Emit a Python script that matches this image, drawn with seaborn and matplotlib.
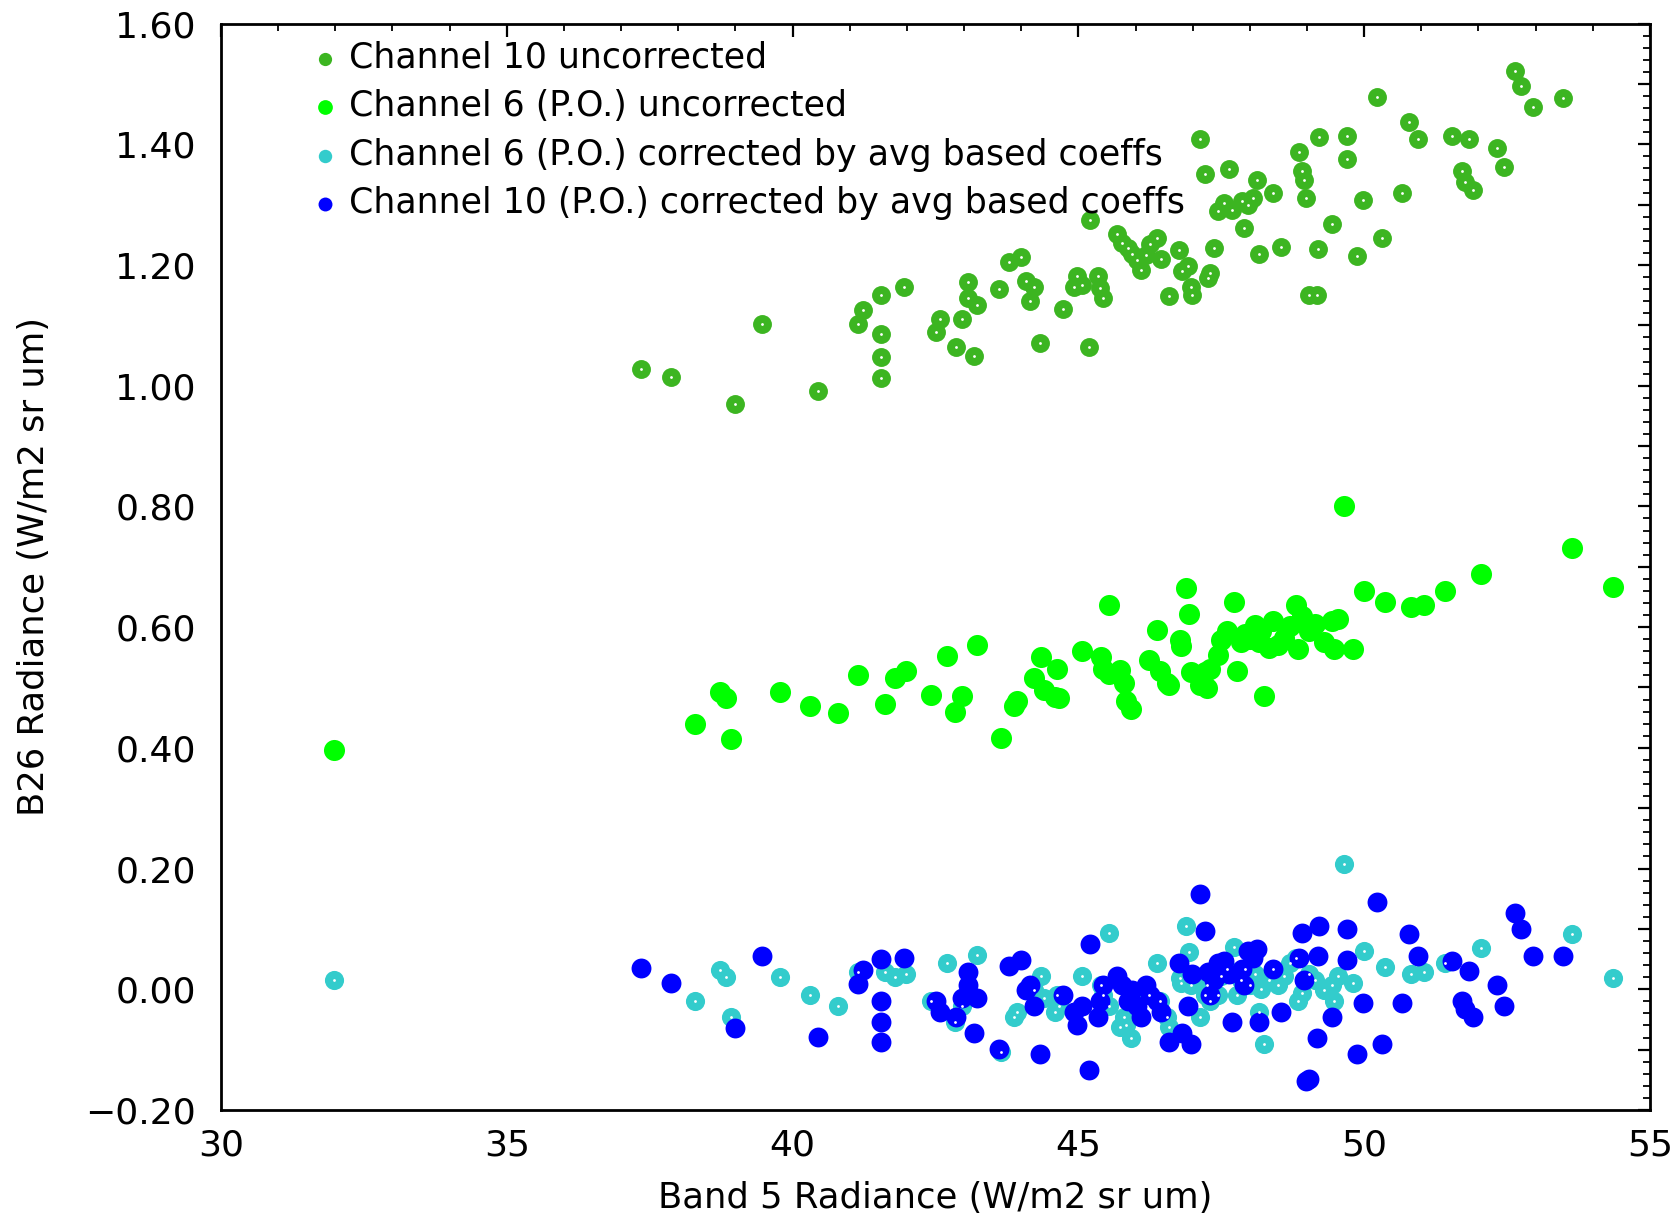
import matplotlib
matplotlib.use('Agg')
import matplotlib.pyplot as plt
import matplotlib.ticker as mticker
import numpy as np
import pandas as pd
import seaborn as sns

# Channel 10 (x shared by uncorrected and corrected series)
ch10_x = [37.34, 37.87, 38.99, 39.46, 40.45, 41.14, 41.24, 41.54, 41.54, 41.54,
          41.54, 41.95, 42.51, 42.58, 42.86, 42.96, 43.07, 43.07, 43.18, 43.22,
          43.61, 43.78, 43.99, 44.08, 44.16, 44.23, 44.33, 44.74, 44.93, 44.98,
          45.06, 45.19, 45.21, 45.34, 45.37, 45.43, 45.67, 45.77, 45.86, 45.94,
          46.03, 46.10, 46.18, 46.25, 46.37, 46.44, 46.59, 46.76, 46.82, 46.91,
          46.97, 46.99, 47.12, 47.21, 47.27, 47.30, 47.38, 47.45, 47.55, 47.64,
          47.68, 47.87, 47.90, 47.96, 48.05, 48.13, 48.16, 48.41, 48.54, 48.86,
          48.91, 48.95, 48.99, 49.03, 49.18, 49.19, 49.21, 49.44, 49.70, 49.70,
          49.87, 49.98, 50.22, 50.32, 50.66, 50.79, 50.94, 51.54, 51.72, 51.76,
          51.84, 51.91, 52.32, 52.45, 52.64, 52.75, 52.96, 53.48]
ch10_uncorr = [1.027, 1.015, 0.969, 1.103, 0.992, 1.103, 1.125, 1.151, 1.086, 1.047,
               1.013, 1.164, 1.089, 1.110, 1.064, 1.110, 1.171, 1.146, 1.050, 1.134,
               1.160, 1.205, 1.213, 1.174, 1.141, 1.164, 1.070, 1.127, 1.164, 1.181,
               1.167, 1.064, 1.274, 1.181, 1.162, 1.146, 1.252, 1.236, 1.228, 1.219,
               1.208, 1.192, 1.217, 1.235, 1.245, 1.210, 1.148, 1.224, 1.190, 1.199,
               1.164, 1.151, 1.408, 1.350, 1.178, 1.187, 1.228, 1.290, 1.302, 1.359,
               1.291, 1.306, 1.261, 1.300, 1.311, 1.341, 1.219, 1.320, 1.229, 1.387,
               1.355, 1.341, 1.311, 1.151, 1.150, 1.226, 1.412, 1.268, 1.414, 1.375,
               1.215, 1.307, 1.478, 1.245, 1.320, 1.437, 1.408, 1.414, 1.355, 1.338,
               1.408, 1.325, 1.394, 1.362, 1.522, 1.497, 1.462, 1.476]
ch10_corr = [0.036, 0.011, -0.065, 0.055, -0.079, 0.009, 0.032, 0.050, -0.019, -0.055,
             -0.087, 0.052, -0.019, -0.037, -0.046, -0.015, 0.029, 0.007, -0.072, -0.014,
             -0.099, 0.038, 0.048, -0.001, 0.007, -0.028, -0.108, -0.010, -0.037, -0.060,
             -0.028, -0.134, 0.075, -0.046, -0.019, 0.007, 0.022, 0.007, -0.019, -0.001,
             -0.028, -0.046, 0.007, -0.010, -0.019, -0.037, -0.087, 0.043, -0.072, -0.028,
             -0.090, 0.025, 0.158, 0.096, 0.029, -0.010, 0.016, 0.043, 0.046, 0.025,
             -0.055, 0.034, 0.007, 0.064, 0.052, 0.066, -0.055, 0.034, -0.037, 0.052,
             0.093, 0.016, -0.152, -0.149, -0.081, 0.055, 0.105, -0.046, 0.100, 0.048,
             -0.108, -0.023, 0.144, -0.090, -0.023, 0.091, 0.055, 0.046, -0.019, -0.033,
             0.031, -0.046, 0.007, -0.028, 0.126, 0.099, 0.055, 0.055]

# Channel 6 (P.O.)
ch6_x = [31.97, 38.30, 38.73, 38.84, 38.93, 39.78, 40.30, 40.79, 41.14, 41.61,
         41.80, 41.99, 42.42, 42.70, 42.85, 42.96, 43.22, 43.65, 43.88, 43.93,
         44.23, 44.34, 44.40, 44.59, 44.63, 44.66, 45.06, 45.39, 45.43, 45.54,
         45.54, 45.73, 45.79, 45.84, 45.92, 46.24, 46.37, 46.42, 46.55, 46.59,
         46.78, 46.80, 46.89, 46.93, 46.97, 47.12, 47.21, 47.25, 47.30, 47.45,
         47.49, 47.60, 47.73, 47.77, 47.85, 47.92, 48.01, 48.09, 48.16, 48.20,
         48.24, 48.33, 48.41, 48.50, 48.60, 48.71, 48.80, 48.84, 48.91, 49.03,
         49.14, 49.29, 49.44, 49.48, 49.55, 49.64, 49.81, 50.00, 50.36, 50.82,
         51.05, 51.42, 52.04, 53.63, 54.36]
ch6_uncorr = [0.396, 0.440, 0.493, 0.483, 0.415, 0.493, 0.470, 0.458, 0.520, 0.472,
              0.516, 0.527, 0.488, 0.552, 0.460, 0.486, 0.570, 0.417, 0.470, 0.477,
              0.516, 0.550, 0.495, 0.484, 0.531, 0.483, 0.561, 0.550, 0.531, 0.637,
              0.522, 0.529, 0.508, 0.477, 0.465, 0.545, 0.596, 0.527, 0.508, 0.504,
              0.578, 0.568, 0.665, 0.621, 0.525, 0.504, 0.525, 0.499, 0.531, 0.554,
              0.578, 0.593, 0.641, 0.527, 0.575, 0.589, 0.580, 0.603, 0.575, 0.593,
              0.486, 0.566, 0.610, 0.570, 0.582, 0.602, 0.637, 0.564, 0.619, 0.593,
              0.605, 0.575, 0.610, 0.564, 0.614, 0.800, 0.564, 0.660, 0.641, 0.633,
              0.637, 0.660, 0.688, 0.731, 0.667]
ch6_corr = [0.015, -0.019, 0.032, 0.020, -0.046, 0.020, -0.010, -0.028, 0.029, 0.029,
            0.020, 0.025, -0.019, 0.043, -0.055, -0.028, 0.057, -0.104, -0.046, -0.037,
            -0.001, 0.022, -0.015, -0.037, -0.010, -0.028, 0.022, 0.007, -0.010, 0.094,
            -0.028, -0.063, -0.046, -0.060, -0.081, -0.010, 0.043, -0.019, -0.046, -0.063,
            0.018, 0.010, 0.105, 0.061, 0.007, -0.046, -0.010, 0.007, -0.019, -0.010,
            0.022, 0.034, 0.070, -0.010, 0.016, 0.034, 0.007, 0.025, -0.037, 0.000,
            -0.090, 0.016, 0.034, 0.007, 0.022, 0.043, 0.052, -0.019, -0.007, 0.025,
            0.016, -0.001, 0.007, -0.019, 0.022, 0.208, 0.011, 0.064, 0.037, 0.025,
            0.029, 0.043, 0.068, 0.091, 0.018]

labels = ['Channel 10 uncorrected',
          'Channel 6 (P.O.) uncorrected',
          'Channel 6 (P.O.) corrected by avg based coeffs',
          'Channel 10 (P.O.) corrected by avg based coeffs']
colors = ['#3cb521', '#00ff00', '#33cccc', '#0000ff']

df = pd.concat([
    pd.DataFrame({'x': ch10_x, 'y': ch10_uncorr, 'series': labels[0]}),
    pd.DataFrame({'x': ch6_x, 'y': ch6_uncorr, 'series': labels[1]}),
    pd.DataFrame({'x': ch6_x, 'y': ch6_corr, 'series': labels[2]}),
    pd.DataFrame({'x': ch10_x, 'y': ch10_corr, 'series': labels[3]}),
])

sns.set_style('white')
plt.rcParams['font.family'] = ['DejaVu Sans']
plt.rcParams.update({'text.color': 'black', 'axes.labelcolor': 'black',
                     'xtick.color': 'black', 'ytick.color': 'black'})

fig = plt.figure(figsize=(16.79, 12.20), dpi=100)
ax = fig.add_axes([0.1316, 0.0902, 0.8511, 0.8905])

sizes = [185, 230, 190, 205]
for lab, col, s in zip(labels, colors, sizes):
    sub = df[df['series'] == lab]
    sns.scatterplot(data=sub, x='x', y='y', color=col, s=s, linewidth=0,
                    label=lab, ax=ax, zorder=3)
    if lab in (labels[0], labels[2]):
        # small white centre dot seen in the original markers
        ax.scatter(sub['x'], sub['y'], s=4, color='white', linewidth=0, zorder=3.5)

ax.set_xlim(30, 55)
ax.set_ylim(-0.20, 1.60)
ax.xaxis.set_major_locator(mticker.MultipleLocator(5))
ax.xaxis.set_minor_locator(mticker.MultipleLocator(1))
ax.yaxis.set_major_locator(mticker.MultipleLocator(0.1))
ax.yaxis.set_minor_locator(mticker.MultipleLocator(0.02))


def ylab(v, pos):
    k = int(round(v * 10))
    if k % 2:
        return ''
    return '\u22120.20' if k == -2 else f'{v:.2f}'


ax.yaxis.set_major_formatter(mticker.FuncFormatter(ylab))

ax.tick_params(which='both', direction='in', top=True, right=True,
               labelsize=26, color='black')
ax.tick_params(which='major', length=9, width=1.6)
ax.tick_params(which='minor', length=5, width=1.3)
ax.tick_params(axis='x', which='major', pad=13)
ax.tick_params(axis='y', which='major', pad=18)
for sp in ax.spines.values():
    sp.set_linewidth(2)
    sp.set_color('black')

ax.set_xlabel('Band 5 Radiance (W/m2 sr um)', fontsize=25.5, labelpad=14)
ax.set_ylabel('B26 Radiance (W/m2 sr um)', fontsize=25.5)
ax.yaxis.set_label_coords(-0.119, 0.5)

leg = ax.legend(loc='upper left', bbox_to_anchor=(0.051, 0.997), frameon=False,
                fontsize=25, markerscale=0.7, handlelength=1.0,
                handletextpad=0.2, labelspacing=0.42, borderaxespad=0)

fig.savefig('out.png', dpi=100)
